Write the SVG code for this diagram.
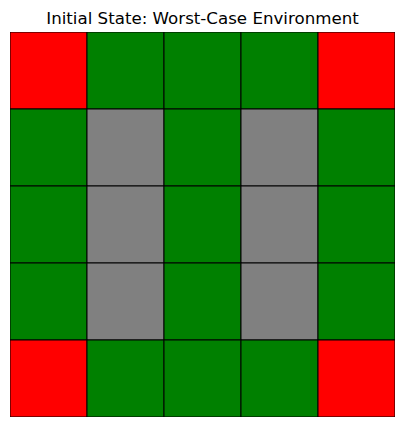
<svg xmlns="http://www.w3.org/2000/svg" width="404" height="427" viewBox="0 0 404 427">
<style>
.c{stroke:#000;stroke-width:1}
.r{fill:#ff0000}
.g{fill:#008000}
.y{fill:#808080}
.t{font-family:"DejaVu Sans",sans-serif;font-size:16.67px;fill:#000}
</style>
<rect width="404" height="427" fill="#fff"/>
<text class="t" x="202.5" y="24" text-anchor="middle">Initial State: Worst-Case Environment</text>
<defs><clipPath id="ax"><rect x="10" y="32" width="385" height="385"/></clipPath></defs>
<g clip-path="url(#ax)">
<g id="r0">
<rect id="c00" class="c r" x="10" y="32" width="77" height="77"/>
<rect id="c01" class="c g" x="87" y="32" width="77" height="77"/>
<rect id="c02" class="c g" x="164" y="32" width="77" height="77"/>
<rect id="c03" class="c g" x="241" y="32" width="77" height="77"/>
<rect id="c04" class="c r" x="318" y="32" width="77" height="77"/>
</g>
<g id="r1">
<rect id="c10" class="c g" x="10" y="109" width="77" height="77"/>
<rect id="c11" class="c y" x="87" y="109" width="77" height="77"/>
<rect id="c12" class="c g" x="164" y="109" width="77" height="77"/>
<rect id="c13" class="c y" x="241" y="109" width="77" height="77"/>
<rect id="c14" class="c g" x="318" y="109" width="77" height="77"/>
</g>
<g id="r2">
<rect id="c20" class="c g" x="10" y="186" width="77" height="77"/>
<rect id="c21" class="c y" x="87" y="186" width="77" height="77"/>
<rect id="c22" class="c g" x="164" y="186" width="77" height="77"/>
<rect id="c23" class="c y" x="241" y="186" width="77" height="77"/>
<rect id="c24" class="c g" x="318" y="186" width="77" height="77"/>
</g>
<g id="r3">
<rect id="c30" class="c g" x="10" y="263" width="77" height="77"/>
<rect id="c31" class="c y" x="87" y="263" width="77" height="77"/>
<rect id="c32" class="c g" x="164" y="263" width="77" height="77"/>
<rect id="c33" class="c y" x="241" y="263" width="77" height="77"/>
<rect id="c34" class="c g" x="318" y="263" width="77" height="77"/>
</g>
<g id="r4">
<rect id="c40" class="c r" x="10" y="340" width="77" height="77"/>
<rect id="c41" class="c g" x="87" y="340" width="77" height="77"/>
<rect id="c42" class="c g" x="164" y="340" width="77" height="77"/>
<rect id="c43" class="c g" x="241" y="340" width="77" height="77"/>
<rect id="c44" class="c r" x="318" y="340" width="77" height="77"/>
</g>
</g>
</svg>
